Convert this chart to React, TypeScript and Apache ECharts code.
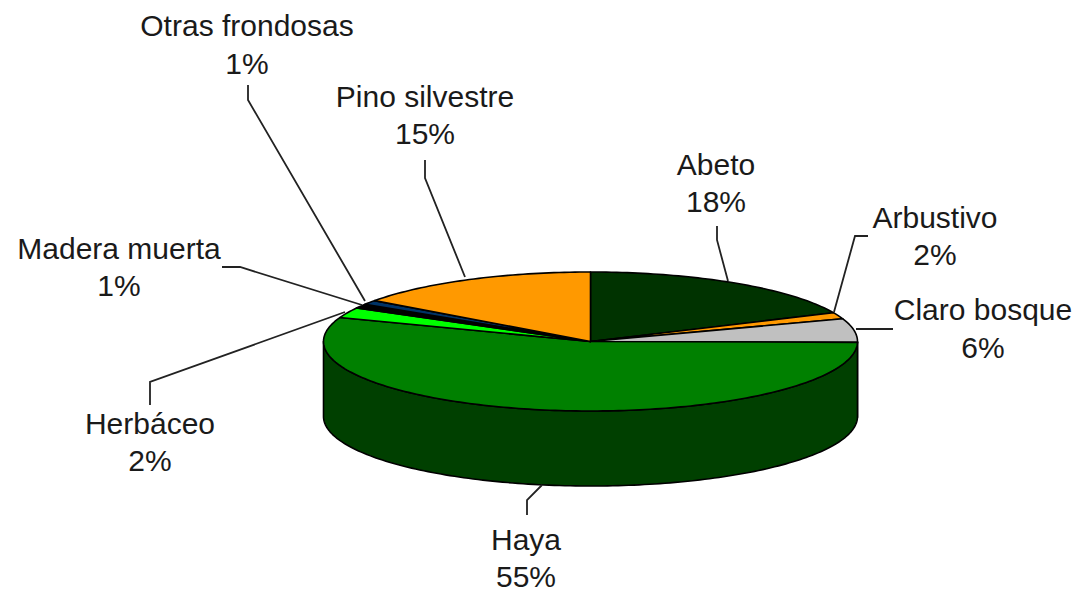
import React, { useEffect, useRef } from "react";
import * as echarts from "echarts";

const categories = ["Abeto", "Arbustivo", "Claro bosque", "Haya", "Herbáceo", "Madera muerta", "Otras frondosas", "Pino silvestre"];
const shares = [18.2, 1.5, 5.5, 55.4, 2.4, 1, 1, 15];
const percentLabels = ["18%", "2%", "6%", "55%", "2%", "1%", "1%", "15%"];

const topColors = ["#003300", "#FF9900", "#C0C0C0", "#008000", "#00FF00", "#000000", "#003366", "#FF9900"];
const sideColors = ["#001900", "#804c00", "#606060", "#004000", "#008000", "#000000", "#001933", "#804c00"];

const CX = 590.5, CY = 341.5, RX = 267, RY = 69.5, DEPTH = 75;

// label anchor (centre of first line) and leader polyline for every category
const labelAnchors = [
  [716, 164], [935, 217], [983, 309.5], [526, 539], [150, 423], [119, 248], [247, 25.5], [425, 96],
];
const leaders = [
  [[717, 226], [717, 240], [728, 281]],
  [[868, 236], [855, 236], [834, 312]],
  [[893, 329], [856, 329]],
  [[527, 515], [527, 500], [542, 485]],
  [[150, 405], [150, 382], [345, 312]],
  [[222, 267], [240, 267], [362, 305]],
  [[248, 85], [248, 100], [365, 301]],
  [[425, 160], [425, 178], [465, 277]],
];

const total = shares.reduce((a, b) => a + b, 0);
const starts = shares.map((_, i) => shares.slice(0, i).reduce((a, b) => a + b, 0));
const pt = (a: number, dy = 0) => [CX + RX * Math.sin(a), CY + dy - RY * Math.cos(a)];
const arc = (a0: number, a1: number, dy = 0) => {
  const n = Math.max(2, Math.ceil(Math.abs(a1 - a0) / 0.02));
  const out: number[][] = [];
  for (let k = 0; k <= n; k++) out.push(pt(a0 + ((a1 - a0) * k) / n, dy));
  return out;
};
const EDGE = { stroke: "#000", lineWidth: 1.6, lineJoin: "round" };

function sideElement(i: number) {
  const a0 = (starts[i] / total) * 2 * Math.PI;
  const a1 = ((starts[i] + shares[i]) / total) * 2 * Math.PI;
  const lo = Math.max(a0, Math.PI / 2), hi = Math.min(a1, (3 * Math.PI) / 2);
  if (hi <= lo) return null;
  return {
    type: "polygon", z2: 1,
    shape: { points: [...arc(lo, hi), ...arc(hi, lo, DEPTH)] },
    style: { fill: sideColors[i], ...EDGE },
  };
}

function renderSlice(params: any, api: any) {
  const i = params.dataIndex;
  const a0 = (api.value(1) / total) * 2 * Math.PI;
  const a1 = ((api.value(1) + api.value(0)) / total) * 2 * Math.PI;
  const side = sideElement(i);
  const children: any[] = [];
  if (side) children.push(side);
  children.push({
    type: "polygon", z2: 2,
    shape: { points: [[CX, CY], ...arc(a0, a1)] },
    style: { fill: topColors[i], ...EDGE },
  });
  return { type: "group", children };
}

function renderLabel(params: any) {
  const i = params.dataIndex;
  const [x, y] = labelAnchors[i];
  const font = '30px "Liberation Sans", Arial, sans-serif';
  return {
    type: "group",
    children: [
      { type: "polyline", z2: 3, shape: { points: leaders[i] }, style: { fill: "none", stroke: "#222", lineWidth: 1.8 } },
      { type: "text", z2: 4, style: { x, y, text: categories[i], font, fill: "#1a1a1a", align: "center", verticalAlign: "middle" } },
      { type: "text", z2: 4, style: { x, y: y + 37.5, text: percentLabels[i], font, fill: "#1a1a1a", align: "center", verticalAlign: "middle" } },
    ],
  };
}

export default function App() {
  const ref = useRef<HTMLDivElement>(null);
  useEffect(() => {
    const chart = echarts.init(ref.current!, undefined, { renderer: "svg" });
    const data = shares.map((v, i) => ({ name: categories[i], value: [v, starts[i]] }));
    chart.setOption({
      animation: false,
      backgroundColor: "#fff",
      series: [
        { type: "custom", coordinateSystem: "none", renderItem: renderSlice, data, z: 1, silent: true },
        { type: "custom", coordinateSystem: "none", renderItem: renderLabel, data, z: 2, silent: true },
      ],
    });
    return () => chart.dispose();
  }, []);
  return <div ref={ref} style={{ position: "absolute", left: 0, top: 0, width: 1076, height: 590 }} />;
}
